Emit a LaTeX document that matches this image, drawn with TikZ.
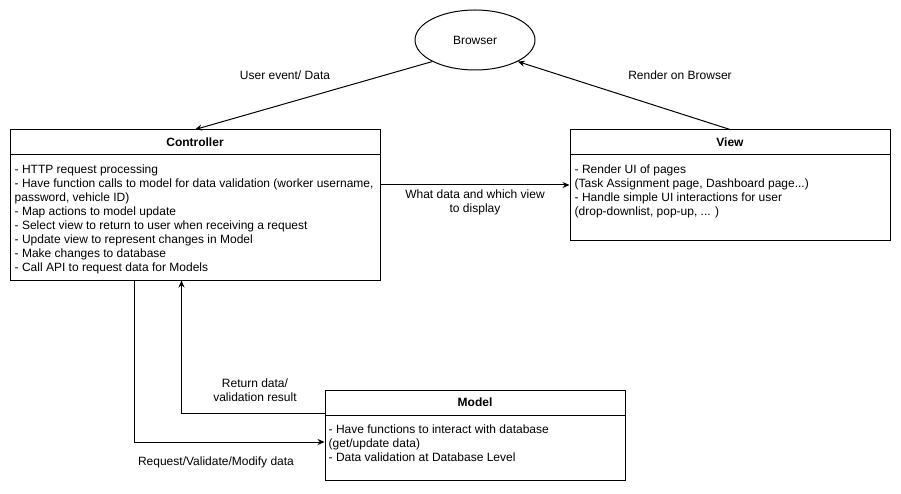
\documentclass[tikz,border=0pt]{standalone}
\usepackage{fontspec}
\setmainfont{Liberation Sans}
\usetikzlibrary{shapes.geometric,arrows.meta,positioning}

\tikzset{
  partBox/.style={draw, line width=1pt, minimum width=#1, inner sep=0pt},
  boxTitle/.style={font=\fontsize{12}{14}\selectfont\bfseries, inner sep=0pt},
  boxText/.style={align=left, anchor=north west, inner sep=0pt},
  flowLabel/.style={align=center, inner sep=0pt},
  flow/.style={line width=1pt, -{Stealth[length=7pt,width=6pt]}}
}

\begin{document}
\begin{tikzpicture}[x=1pt,y=-1pt,font=\fontsize{12}{14}\selectfont]
  \useasboundingbox (0,0) rectangle (901,494);
  % Browser
  \node[ellipse, draw, line width=1pt, minimum width=120pt, minimum height=60pt] (brw) at (475,40) {Browser};
  % Controller
  \node[partBox=370pt, minimum height=150pt] (ctrl) at (195,205) {};
  \draw[line width=1pt] ([yshift=-25pt]ctrl.north west) -- ([yshift=-25pt]ctrl.north east);
  \node[boxTitle] (ctrlTitle) at ([yshift=-13pt]ctrl.north) {Controller};
  \node[boxText] (ctrlText) at ([xshift=5pt,yshift=-35pt]ctrl.north west) {%
    - HTTP request processing\\
    - Have function calls to model for data validation (worker username,\\
    password, vehicle ID)\\
    - Map actions to model update\\
    - Select view to return to user when receiving a request\\
    - Update view to represent changes in Model\\
    - Make changes to database\\
    - Call API to request data for Models};
  % View
  \node[partBox=320pt, minimum height=110pt] (view) at (730,185) {};
  \draw[line width=1pt] ([yshift=-25pt]view.north west) -- ([yshift=-25pt]view.north east);
  \node[boxTitle] (viewTitle) at ([yshift=-13pt]view.north) {View};
  \node[boxText] (viewText) at ([xshift=5pt,yshift=-35pt]view.north west) {%
    - Render UI of pages\\
    (Task Assignment page, Dashboard page...)\\
    - Handle simple UI interactions for user\\
    (drop-downlist, pop-up, ... )};
  % Model
  \node[partBox=300pt, minimum height=90pt] (model) at (475,435) {};
  \draw[line width=1pt] ([yshift=-26pt]model.north west) -- ([yshift=-26pt]model.north east);
  \node[boxTitle] (modelTitle) at ([yshift=-13pt]model.north) {Model};
  \node[boxText] (modelText) at ([xshift=4pt,yshift=-35pt]model.north west) {%
    - Have functions to interact with database\\
    (get/update data)\\
    - Data validation at Database Level};
  % Connectors
  \draw[flow] (brw.south west) -- (ctrl.north);
  \node[flowLabel] (userEvt) at (285,75) {User event/ Data};
  \draw[flow] (view.north) -- (brw.south east);
  \node[flowLabel] (render) at (680,75) {Render on Browser};
  \draw[flow] (view.west -| ctrl.east) -- (view.west);
  \node[flowLabel] (whatData) at (475,202) {What data and which view\\to display};
  \draw[flow] ([xshift=125pt]ctrl.south west) |- ([yshift=-7pt]model.west);
  \node[flowLabel] (reqData) at (216,462) {Request/Validate/Modify data};
  \draw[flow] ([yshift=22pt]model.west) -| ([xshift=172pt]ctrl.south west);
  \node[flowLabel] (retData) at (255,390) {Return data/\\validation result};
\end{tikzpicture}
\end{document}
